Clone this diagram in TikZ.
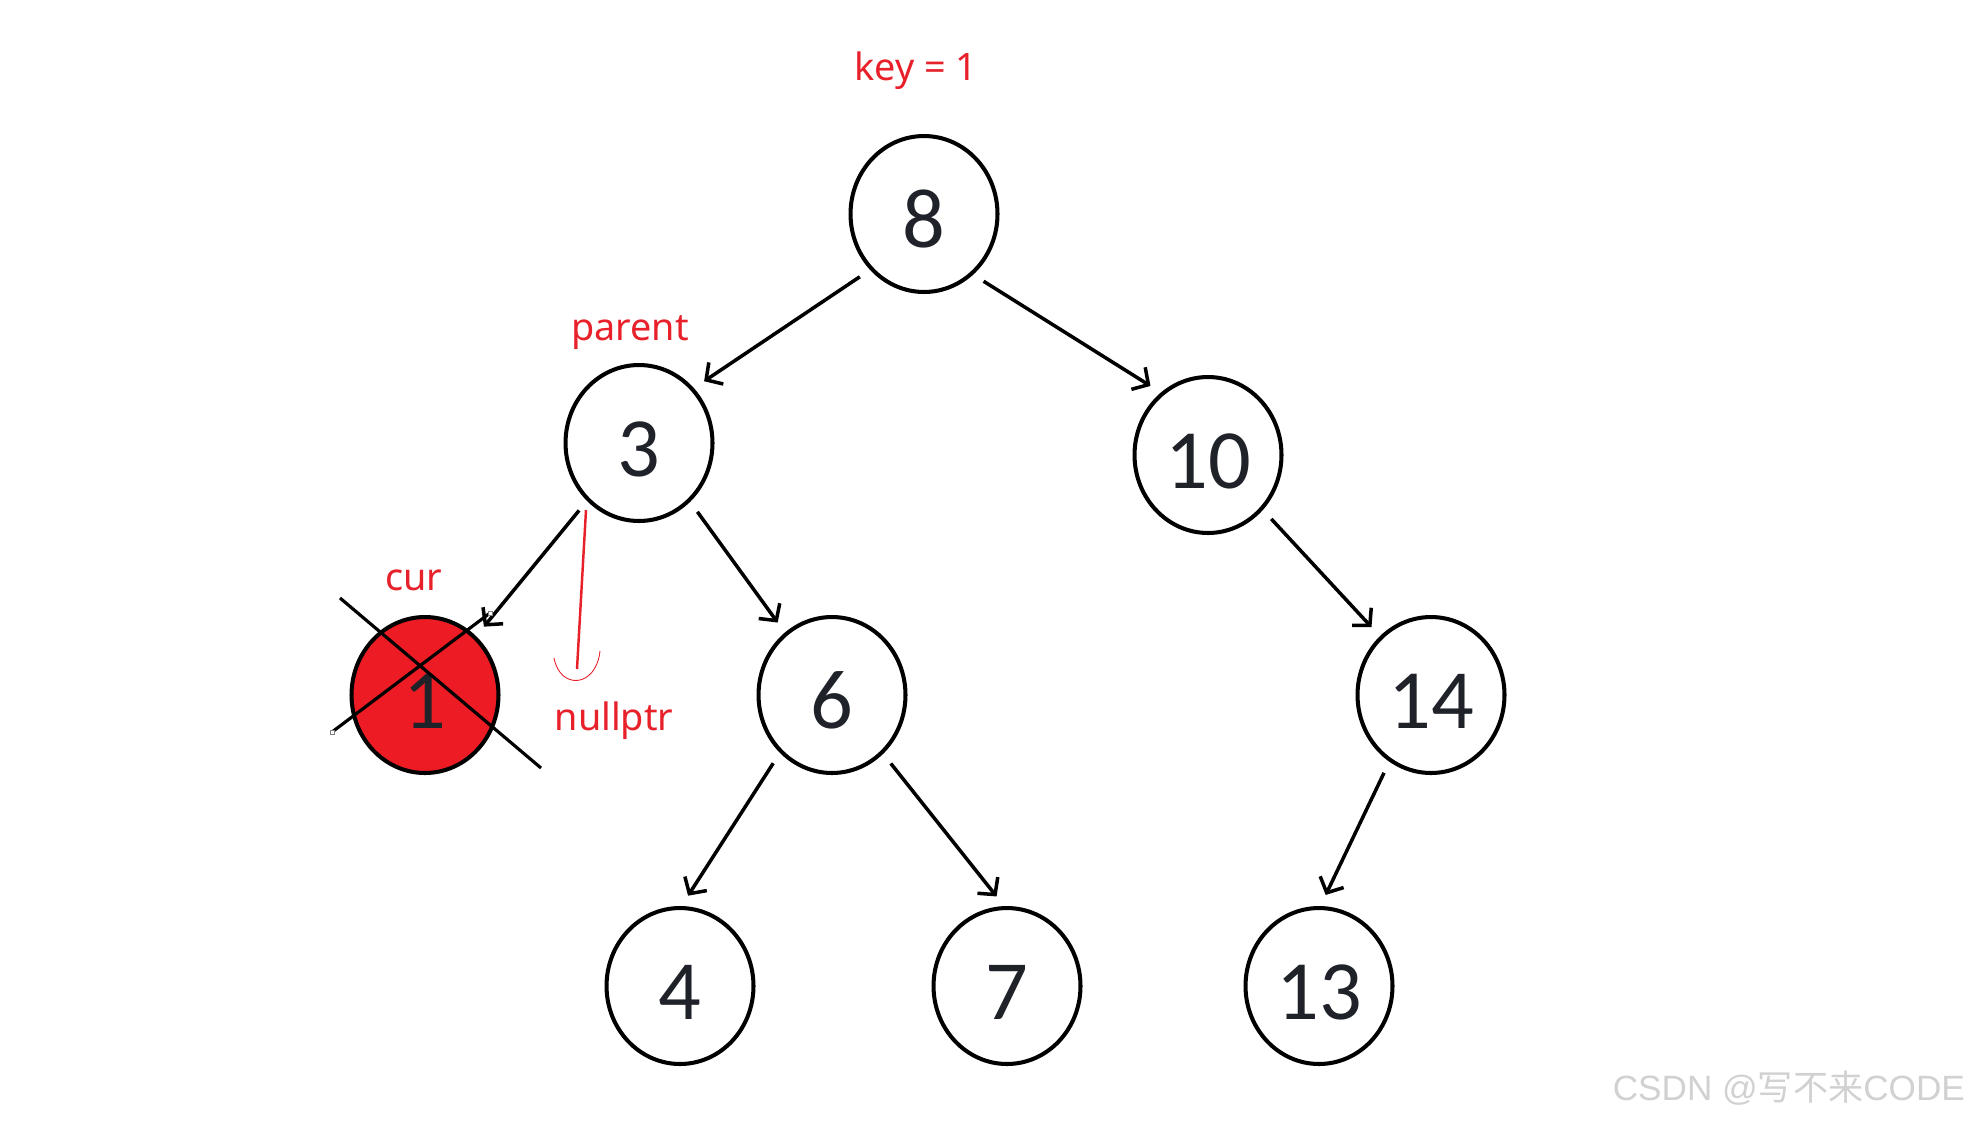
\documentclass[tikz,border=0pt]{standalone}
\usepackage{fontspec}
\setmainfont{Carlito}
\newfontfamily\labelfont{Noto Sans}
\newfontfamily\wmfont{Liberation Sans}
\newfontfamily\cjk{Noto Sans CJK SC}
\usepackage{tikz}
\usetikzlibrary{arrows.meta,positioning,calc,shapes.geometric}
\definecolor{paintred}{HTML}{ED1C24}
\definecolor{labelred}{HTML}{E8202A}
\definecolor{ink}{HTML}{1F2329}
\tikzset{
    vertex/.style={ellipse, draw, line width=2.3pt, minimum width=2.94cm, minimum height=3.12cm,
        inner sep=0pt, text=ink, text height=38pt, text depth=0pt,
        font=\fontsize{48}{48}\selectfont},
    edge/.style={draw, line width=2pt, shorten >=7pt, shorten <=7pt,
        -{Straight Barb[length=2.4mm, width=5.2mm, line width=2pt]}},
    tag/.style={text=labelred, font=\labelfont\fontsize{21.5}{21.5}\selectfont},
    cross/.style={line width=1.8pt},
    handle/.style={draw=gray, line width=0.4pt}
}

\begin{document}
\begin{tikzpicture}[x=0.02cm, y=-0.02cm]
    \useasboundingbox (0,0) rectangle (1973,1123);

    % Nodes
    \node[vertex] (n8) at (924,214) {8};
    \node[vertex] (n3) at (639,443) {3};
    \node[vertex] (n10) at (1208,455) {10};
    \node[vertex, fill=paintred] (n1) at (425,695) {1};
    \node[vertex] (n6) at (832,695) {6};
    \node[vertex] (n14) at (1431,695) {14};
    \node[vertex] (n4) at (680,986) {4};
    \node[vertex] (n7) at (1007,986) {7};
    \node[vertex] (n13) at (1319,986) {13};

    % labels
    \node[tag] (key) at (916,71) {key = 1};
    \node[tag] (parent) at (630,333) {parent};
    \node[tag] (cur) at (414,580) {cur};
    \node[tag] (null) at (614,721) {nullptr};

    % edges
    \draw[edge] (n8.226) -- (n3.45);
    \draw[edge] (n8.309) -- (n10.127);
    \draw[edge] (n3.228) -- (n1.49);
    \draw[edge] (n3.311) -- (n6.127);
    \draw[edge] (n10.315) -- (n14.131);
    \draw[edge] (n6.228) -- (n4.89);
    \draw[edge] (n6.311) -- (n7.92);
    \draw[edge] (n14.238) -- (n13.89);

    % red arrow to nullptr
    \coordinate (nullstart) at (586,510);
    \coordinate (nulltip) at (577,669);
    \draw[labelred, line width=1.4pt] (nullstart) -- (nulltip);
    \draw[labelred, line width=0.5pt] (554,658) .. controls (560,690) and (596,688) .. (600,651);

    % cross over cur
    \coordinate (c1a) at (340,598);
    \coordinate (c1b) at (541,768);
    \coordinate (c2a) at (332,732);
    \coordinate (c2b) at (490,613);
    \draw[cross] (c1a) -- (c1b);
    \draw[cross] (c2a) -- (c2b);
    \draw[handle, fill=white] ($(c2a)+(-2,-2)$) rectangle ++(4,4);
    \draw[handle, fill=white] ($(c2b)+(-2,-2)$) rectangle ++(4,4);

    % watermark
    \node[anchor=east, text=black!18, font=\wmfont\fontsize{20}{20}\selectfont] (mark) at (1971,1088)
        {CSDN @{\cjk 写不来}CODE};
\end{tikzpicture}
\end{document}
